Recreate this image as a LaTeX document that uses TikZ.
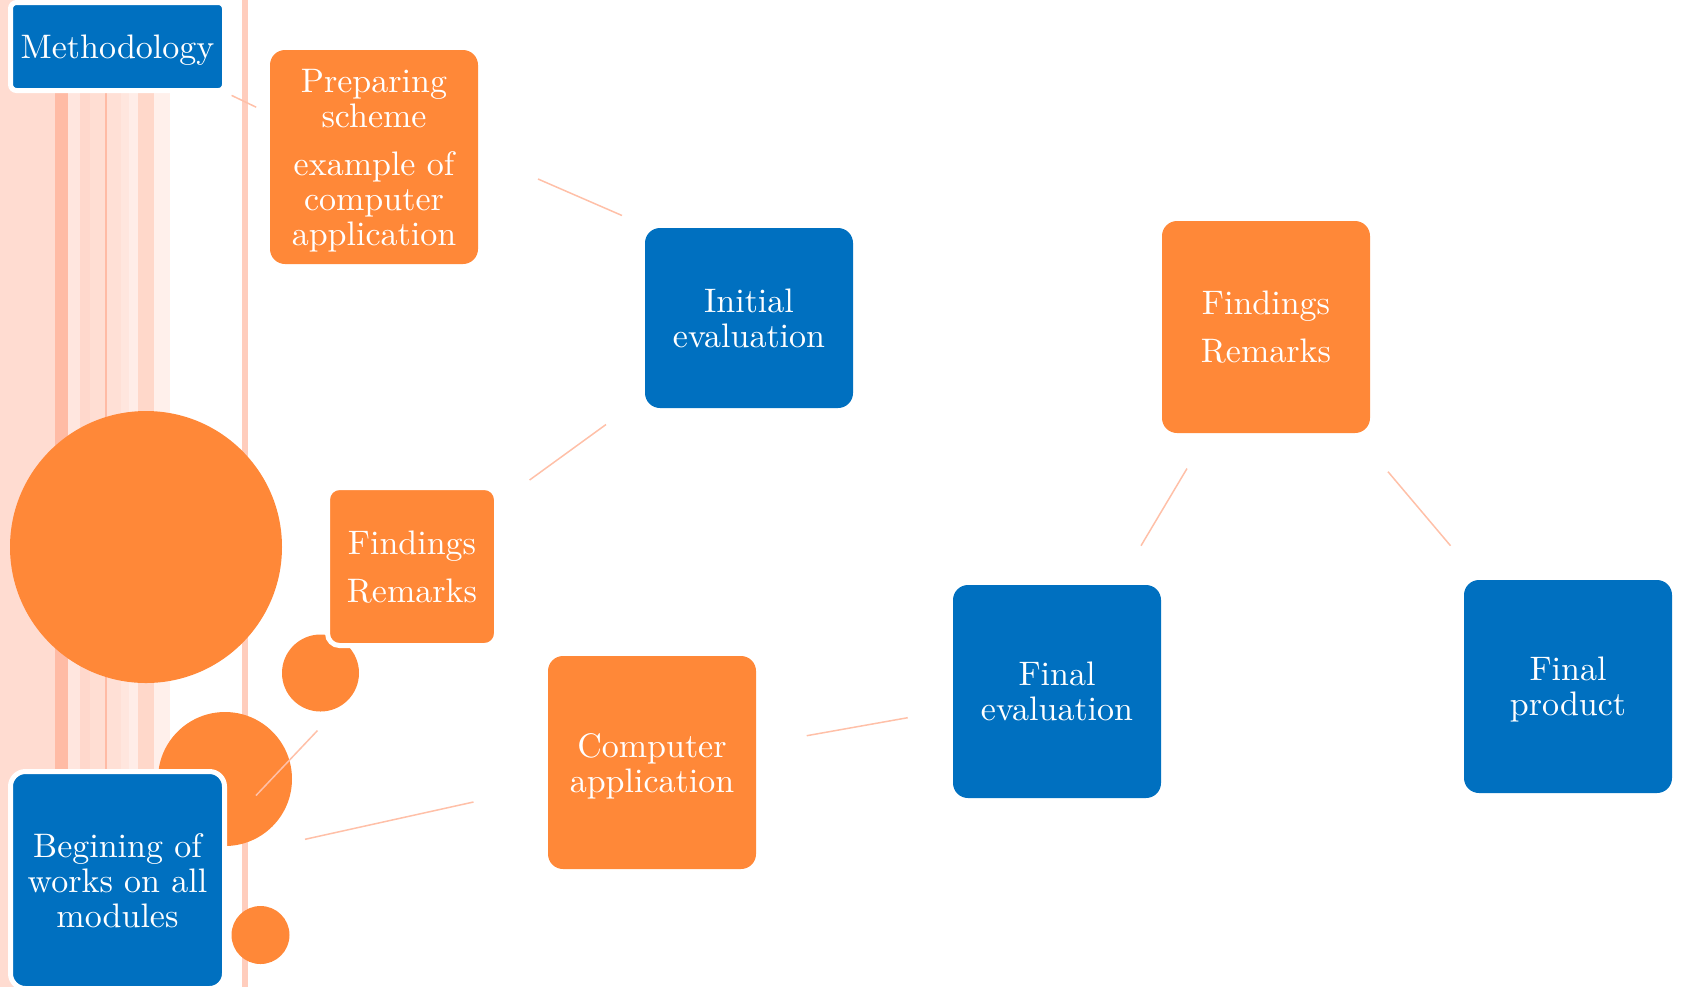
\documentclass[tikz,border=0pt]{standalone}
\usepackage{tikz}
\font\boxfont="[lmroman10-regular]:mapping=tex-text" at 17pt
\definecolor{mblue}{HTML}{0070C0}
\definecolor{morange}{HTML}{FF8838}
\definecolor{connc}{HTML}{FFC0A8}
\definecolor{sA}{HTML}{FFDCD1}
\definecolor{sB}{HTML}{FFBBA5}
\definecolor{sC}{HTML}{FFE6DF}
\definecolor{sD}{HTML}{FFD8CC}
\definecolor{sE}{HTML}{FFDED3}
\definecolor{sF}{HTML}{FFE0D6}
\definecolor{sG}{HTML}{FFE6DE}
\definecolor{sH}{HTML}{FFEDE8}
\definecolor{sI}{HTML}{FFD8CA}
\definecolor{sJ}{HTML}{FFF0EB}
\definecolor{vline}{HTML}{FFCDBD}
\begin{document}
\begin{tikzpicture}[x=0.5pt,y=-0.5pt,
  box/.style={rounded corners=7.5pt, text=white, align=center,
    font={\boxfont\baselineskip=17.5pt\relax}, inner sep=0pt, text depth=0pt,
    minimum width=104pt, minimum height=106.5pt},
  bluebox/.style={box, fill=mblue},
  orbox/.style={box, fill=morange},
  wborder/.style={draw=white, line width=2.5pt},
  connector/.style={draw=connc, line width=0.75pt},
  blob/.style={circle, fill=morange, inner sep=0pt}]
\clip (0,0) rectangle (1681,987);
% background stripes
\fill[sA] (0,0) rectangle (55,987);
\fill[sB] (55,0) rectangle (67.5,987);
\fill[sC] (67.5,0) rectangle (80,987);
\fill[sD] (80,0) rectangle (90,987);
\fill[sE] (90,0) rectangle (105,987);
\fill[sB] (105,0) rectangle (107,987);
\fill[sF] (107,0) rectangle (120.5,987);
\fill[sG] (120.5,0) rectangle (129,987);
\fill[sH] (129,0) rectangle (138,987);
\fill[sI] (138,0) rectangle (154,987);
\fill[sJ] (154,0) rectangle (170,987);
\fill[vline] (241.5,0) rectangle (247.5,987);
% circles
\node[blob, minimum size=136pt] (bigc) at (146,547) {};
\node[blob, minimum size=38.5pt] (cA) at (320.5,673) {};
\node[blob, minimum size=67pt] (cB) at (225,779) {};
\node[blob, minimum size=29pt] (cC) at (260.5,935) {};
% connector end points
\coordinate (k1a) at (231.6,95.4);  \coordinate (k1b) at (256.2,107.2);
\coordinate (k2a) at (538,179);     \coordinate (k2b) at (622,215.5);
\coordinate (k3a) at (606,424.5);   \coordinate (k3b) at (529.6,480);
\coordinate (k4a) at (317.5,730.5); \coordinate (k4b) at (256,795.5);
\coordinate (k5a) at (305,839.3);   \coordinate (k5b) at (473.5,802);
\coordinate (k6a) at (806.7,735.7); \coordinate (k6b) at (907.7,717.7);
\coordinate (k7a) at (1141,545.7);  \coordinate (k7b) at (1187,468.5);
\coordinate (k8a) at (1388,471.7);  \coordinate (k8b) at (1450.5,545.7);
\foreach \i in {1,...,8} { \draw[connector] (k\i a) -- (k\i b); }
% boxes
\node[bluebox, wborder, rounded corners=3pt, minimum width=107pt, minimum height=44pt] (meth) at (117.5,46.5) {Methodology};
\node[orbox, minimum height=107pt] (prep) at (374,157) {Preparing\\scheme\\[6.5pt]example of\\computer\\application};
\node[bluebox, minimum height=90pt] (init) at (749,318) {Initial\\evaluation};
\node[orbox, wborder, rounded corners=6pt, minimum width=84.5pt, minimum height=79pt] (findA) at (412,566.5) {Findings\\[6.5pt]Remarks};
\node[bluebox, wborder, minimum width=107pt, minimum height=108.5pt] (begin) at (117.5,880) {Begining of\\works on all\\modules};
\node[orbox] (comp) at (652,762.5) {Computer\\application};
\node[bluebox] (feval) at (1057,691.5) {Final\\evaluation};
\node[orbox, minimum height=106pt] (findB) at (1266,327) {Findings\\[6.5pt]Remarks};
\node[bluebox] (fprod) at (1568,686.5) {Final\\product};
\end{tikzpicture}
\end{document}
